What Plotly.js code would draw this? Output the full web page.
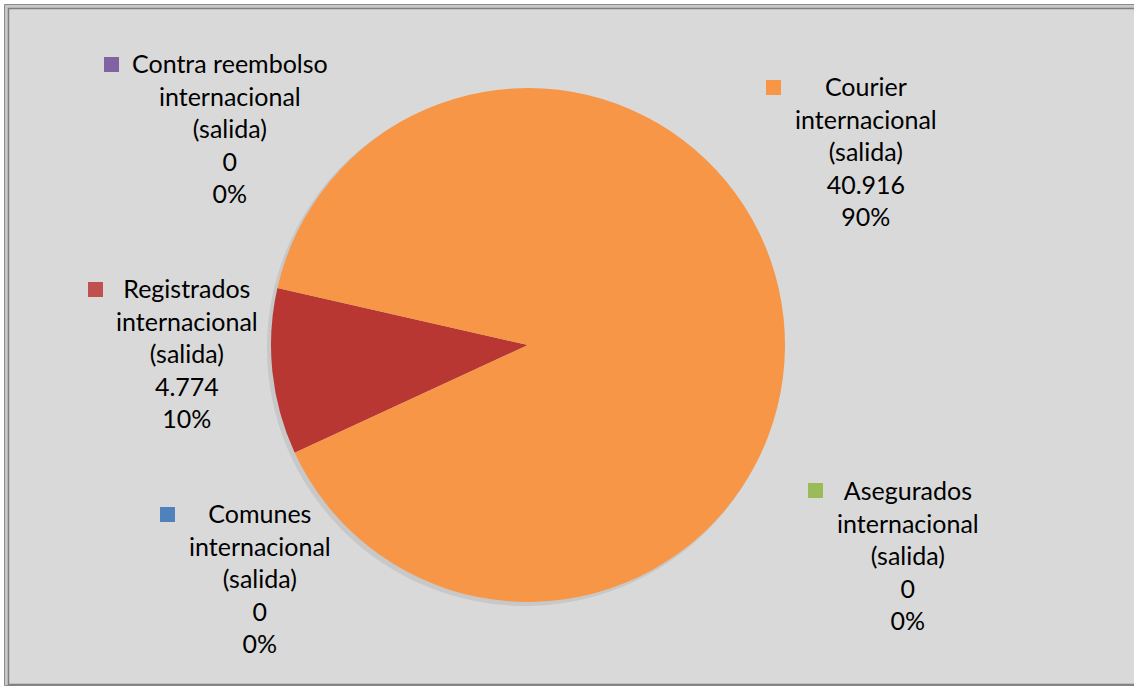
<!DOCTYPE html>
<html>
<head>
<meta charset="utf-8">
<script src="https://cdn.plot.ly/plotly-3.0.1.min.js"></script>
<style>
html,body{margin:0;padding:0;background:#fff;}
#chart{width:1134px;height:686px;}
</style>
</head>
<body>
<div id="chart"></div>
<script>
// ---- data ----
const categories = [
  "Comunes internacional (salida)",
  "Registrados internacional (salida)",
  "Courier internacional (salida)",
  "Asegurados internacional (salida)",
  "Contra reembolso internacional (salida)"
];
const labelLines = [
  ["Comunes", "internacional", "(salida)"],
  ["Registrados", "internacional", "(salida)"],
  ["Courier", "internacional", "(salida)"],
  ["Asegurados", "internacional", "(salida)"],
  ["Contra reembolso", "internacional", "(salida)"]
];
const values = [0, 4774, 40916, 0, 0];
const colors = ["#4f81bd", "#b83733", "#f79646", "#9bbb59", "#8064a2"];
const keyColors = ["#4f81bd", "#c0504d", "#f79646", "#9bbb59", "#8064a2"];

// ---- layout helpers (pixel -> paper) ----
const W = 1134, H = 686;
const px = x => x / W;
const py = y => 1 - y / H;

// label block centers (pixels) and key square top-left (pixels)
const labelPos = [
  {cx: 260, cy: 578, kx: 160, ky: 507},
  {cx: 187, cy: 353, kx: 88,  ky: 282},
  {cx: 866, cy: 151, kx: 766, ky: 80},
  {cx: 908, cy: 555, kx: 808, ky: 483},
  {cx: 230, cy: 128, kx: 104, ky: 57}
];

const total = values.reduce((a, b) => a + b, 0);
const fmt = v => v.toLocaleString('de-DE');

const annotations = [];
const shapes = [];

// chart frame
shapes.push({type: 'rect', xref: 'paper', yref: 'paper', layer: 'below',
  x0: px(4.5), x1: px(1160), y0: py(4.5), y1: py(685.5),
  fillcolor: '#c9c9c9', line: {color: '#8a8a8a', width: 1}});
shapes.push({type: 'rect', xref: 'paper', yref: 'paper', layer: 'below',
  x0: px(8.5), x1: px(1160), y0: py(8.5), y1: py(684.5),
  fillcolor: '#d9d9d9', line: {color: '#7f7f7f', width: 1.5}});
// soft pie shadow (lower-left)
shapes.push({type: 'circle', xref: 'paper', yref: 'paper', layer: 'below',
  x0: px(267), x1: px(783), y0: py(90), y1: py(606),
  fillcolor: 'rgba(0,0,0,0.08)', line: {width: 0}});

categories.forEach((c, i) => {
  const p = labelPos[i];
  const pct = total ? Math.round(values[i] / total * 100) : 0;
  const txt = labelLines[i].concat([fmt(values[i]), pct + '%']).join('<br>');
  annotations.push({
    xref: 'paper', yref: 'paper', x: px(p.cx), y: py(p.cy),
    xanchor: 'center', yanchor: 'middle', align: 'center',
    showarrow: false, text: txt, borderpad: 0,
    font: {family: 'Lato, "Liberation Sans", sans-serif', size: 25, color: '#000'}
  });
  shapes.push({type: 'rect', xref: 'paper', yref: 'paper',
    x0: px(p.kx), x1: px(p.kx + 15), y0: py(p.ky), y1: py(p.ky + 15),
    fillcolor: keyColors[i], line: {width: 0}});
});

// pie: center (528,345), radius 257 px
const cx = 528, cy = 345, r = 257;
const data = [{
  type: 'pie',
  labels: categories,
  values: values,
  sort: false,
  direction: 'clockwise',
  rotation: 245.2,
  textinfo: 'none',
  hoverinfo: 'none',
  marker: {colors: colors, line: {width: 0}},
  domain: {x: [px(cx - r), px(cx + r)], y: [py(cy + r), py(cy - r)]},
  showlegend: false
}];

const layout = {
  width: W, height: H,
  margin: {l: 0, r: 0, t: 0, b: 0},
  paper_bgcolor: '#ffffff',
  showlegend: false,
  annotations: annotations,
  shapes: shapes
};

Plotly.newPlot('chart', data, layout, {staticPlot: true, displayModeBar: false});
</script>
</body>
</html>
